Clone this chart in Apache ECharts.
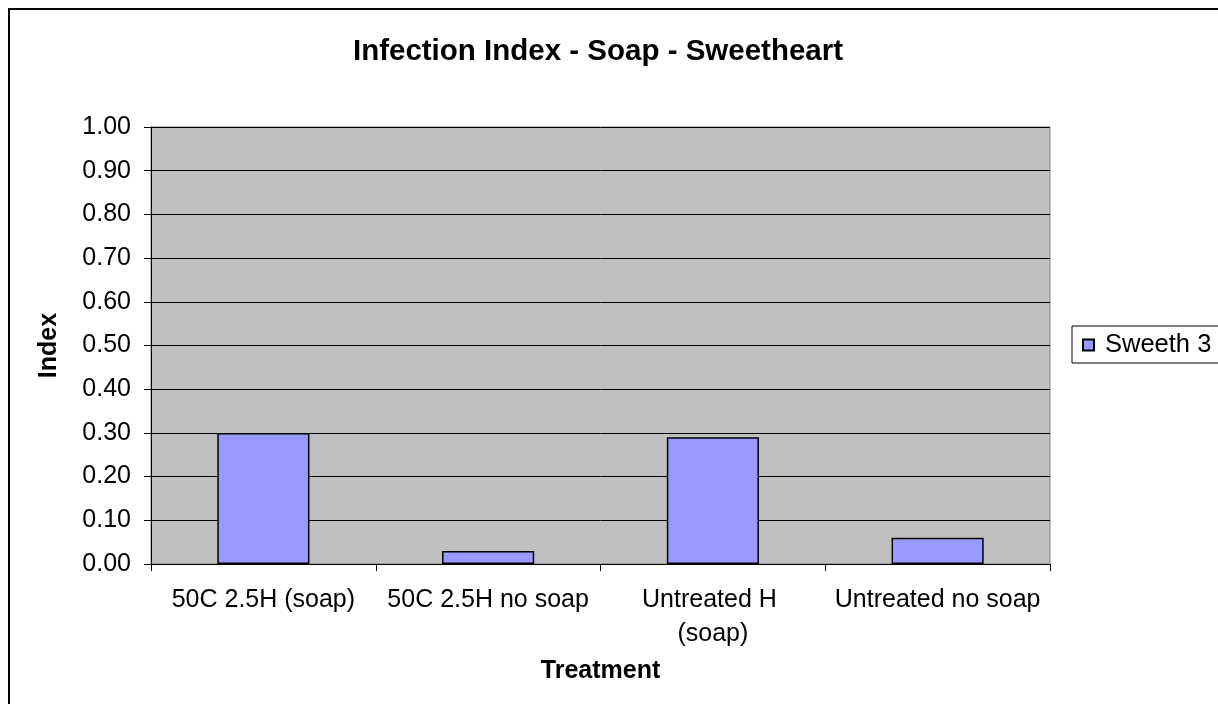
<!DOCTYPE html>
<html>
<head>
<meta charset="utf-8">
<script src="https://cdn.jsdelivr.net/npm/echarts@6/dist/echarts.min.js"></script>
<style>
  html, body { margin: 0; padding: 0; background: #fff; }
  #main { width: 1218px; height: 704px; }
</style>
</head>
<body>
<div id="main"></div>
<script>
var chartTitle = 'Infection Index - Soap - Sweetheart';
var categories = ['50C 2.5H (soap)', '50C 2.5H no soap', 'Untreated H (soap)', 'Untreated no soap'];
var seriesName = 'Sweeth 3';
var indexValues = [0.30, 0.03, 0.29, 0.06];

var fontFam = '"Liberation Sans", Arial, sans-serif';

var myChart = echarts.init(document.getElementById('main'));

// 指定图表的配置项和数据
var option = {
    backgroundColor: '#ffffff',
    animation: false,
    textStyle: { fontFamily: fontFam, color: '#000' },
    graphic: [
        {
            type: 'rect',
            shape: { x: 9, y: 9, width: 1240, height: 720 },
            style: { fill: 'none', stroke: '#000', lineWidth: 2 },
            silent: true
        },
        {
            type: 'text',
            x: 598,
            y: 52,
            style: {
                text: chartTitle,
                fontFamily: fontFam,
                fontSize: 29.5,
                fontWeight: 'bold',
                fill: '#000',
                align: 'center',
                verticalAlign: 'middle'
            }
        }
    ],
    legend: {
        left: 1072,
        top: 326,
        orient: 'vertical',
        backgroundColor: '#fff',
        borderColor: '#000',
        borderWidth: 1,
        padding: [6, 40, 5, 10],
        itemWidth: 11,
        itemHeight: 11,
        icon: 'rect',
        textStyle: { fontSize: 25.5, color: '#000', fontFamily: fontFam, padding: [0, 0, 0, 6] },
        data: [seriesName]
    },
    grid: {
        left: 151,
        top: 127,
        right: 168,
        bottom: 140,
        show: true,
        backgroundColor: '#c0c0c0',
        borderColor: '#808080',
        borderWidth: 1
    },
    xAxis: {
        type: 'category',
        data: categories,
        name: 'Treatment',
        nameLocation: 'middle',
        nameGap: 95,
        nameTextStyle: { fontSize: 25, fontWeight: 'bold', color: '#000', fontFamily: fontFam },
        axisLine: { lineStyle: { color: '#000', width: 1 } },
        axisTick: { show: true, inside: false, length: 7, lineStyle: { color: '#000' } },
        axisLabel: {
            fontSize: 25,
            color: '#000',
            margin: 19,
            width: 209,
            overflow: 'break',
            lineHeight: 34,
            interval: 0
        }
    },
    yAxis: {
        type: 'value',
        min: 0,
        max: 1,
        interval: 0.1,
        name: 'Index',
        nameLocation: 'middle',
        nameGap: 89,
        nameTextStyle: { fontSize: 25, fontWeight: 'bold', color: '#000', fontFamily: fontFam },
        axisLine: { show: true, lineStyle: { color: '#000', width: 1 } },
        axisTick: { show: true, inside: false, length: 7, lineStyle: { color: '#000' } },
        axisLabel: {
            fontSize: 25,
            color: '#000',
            margin: 20,
            formatter: function (v) { return v.toFixed(2); }
        },
        splitLine: { show: true, lineStyle: { color: '#000', width: 1 } }
    },
    series: [
        {
            name: seriesName,
            type: 'bar',
            data: indexValues,
            barWidth: '41%',
            itemStyle: { color: '#9999ff', borderColor: '#000', borderWidth: 1.5 }
        }
    ]
};

// 使用刚指定的配置项和数据显示图表。
myChart.setOption(option);
</script>
</body>
</html>
